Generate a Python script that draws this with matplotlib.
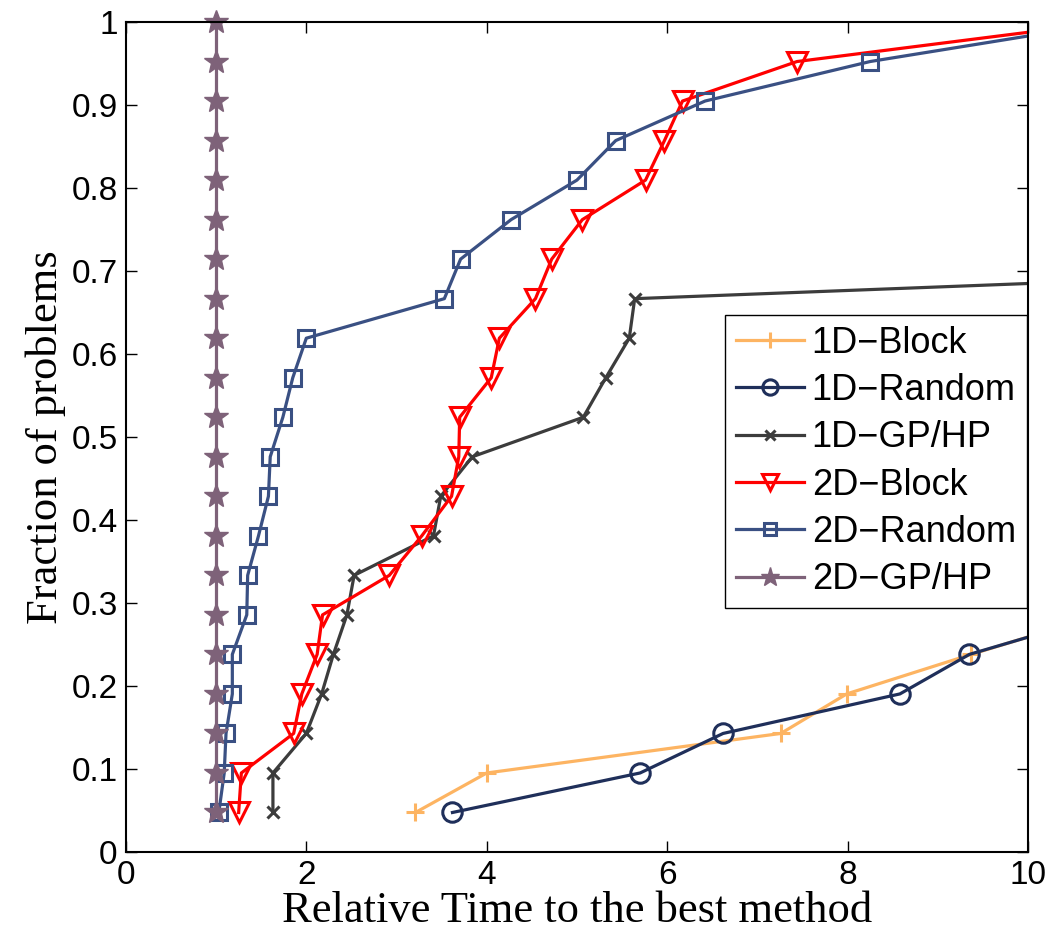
import matplotlib
matplotlib.use('Agg')
import matplotlib.pyplot as plt
import numpy as np

# fraction levels k/21
frac = np.arange(1, 22) / 21.0

# relative times
t_1d_block = [3.21, 4.00, 7.26, 7.99, 9.37, 10.8]
t_1d_random = [3.62, 5.70, 6.62, 8.58, 9.35, 10.84]
t_1d_gphp = [1.63, 1.63, 2.00, 2.17, 2.30, 2.45, 2.53, 3.41, 3.49, 3.84,
             5.07, 5.32, 5.58, 5.64, 17.0]
t_2d_block = [1.25, 1.28, 1.86, 1.95, 2.12, 2.18, 2.92, 3.28, 3.61, 3.69,
              3.70, 4.05, 4.14, 4.54, 4.72, 5.06, 5.76, 5.97, 6.17, 7.44, 10.9]
t_2d_random = [1.03, 1.09, 1.11, 1.18, 1.18, 1.34, 1.35, 1.47, 1.58, 1.60,
               1.74, 1.85, 2.00, 3.53, 3.71, 4.27, 5.00, 5.43, 6.42, 8.25, 10.96]
t_2d_gphp = [1.0] * 21

labels = ['1D\u2212Block', '1D\u2212Random', '1D\u2212GP/HP',
          '2D\u2212Block', '2D\u2212Random', '2D\u2212GP/HP']

plt.rcParams['font.family'] = ['Liberation Sans', 'DejaVu Sans']

fig = plt.figure(figsize=(10.49, 9.4), dpi=100)
ax = fig.add_axes([0.120, 0.0936, 0.860, 0.883])

lw = 2.3
ax.plot(t_1d_block, frac[:len(t_1d_block)], color='#fdb462', lw=lw,
        marker='+', ms=13, mew=2.2, label=labels[0])
ax.plot(t_1d_random, frac[:len(t_1d_random)], color='#1f2f5a', lw=lw,
        marker='o', ms=14, mew=2.2, mfc='none', label=labels[1])
ax.plot(t_1d_gphp, frac[:len(t_1d_gphp)], color='#3c3c3c', lw=lw,
        marker='x', ms=8, mew=2.2, label=labels[2])
ax.plot(t_2d_block, frac, color='#ff0000', lw=lw,
        marker='v', ms=15, mew=2.2, mfc='none', label=labels[3])
ax.plot(t_2d_random, frac, color='#3a5083', lw=lw,
        marker='s', ms=11, mew=2.2, mfc='none', label=labels[4])
ax.plot(t_2d_gphp, frac, color='#7e6279', lw=lw,
        marker='*', ms=18, mew=1.0, label=labels[5], clip_on=False)

ax.set_xlim(0, 10)
ax.set_ylim(0, 1)
ax.set_xticks([0, 2, 4, 6, 8, 10])
yt = np.round(np.arange(0, 1.01, 0.1), 1)
ax.set_yticks(yt)
ax.set_yticklabels(['0'] + ['%.1f' % v for v in yt[1:-1]] + ['1'])
ax.tick_params(direction='in', top=True, right=True, labelsize=24,
               length=8, width=1, pad=6)
for s in ax.spines.values():
    s.set_linewidth(1.5)

ax.set_xlabel('Relative Time to the best method', family='Liberation Serif',
              fontsize=32, labelpad=0)
ax.set_ylabel('Fraction of problems', family='Liberation Serif',
              fontsize=32, labelpad=4)

leg = ax.legend(loc='upper right', bbox_to_anchor=(0.9985, 0.647), fontsize=26,
                handlelength=1.9, handletextpad=0.2, borderpad=0.3,
                borderaxespad=0, labelspacing=0.34, fancybox=False,
                framealpha=1, edgecolor='black')
leg.get_frame().set_linewidth(1.0)
for h, ms in zip(leg.legend_handles, [11, 11, 7, 11, 9, 14]):
    h.set_markersize(ms)

fig.savefig('out.png', dpi=100)
